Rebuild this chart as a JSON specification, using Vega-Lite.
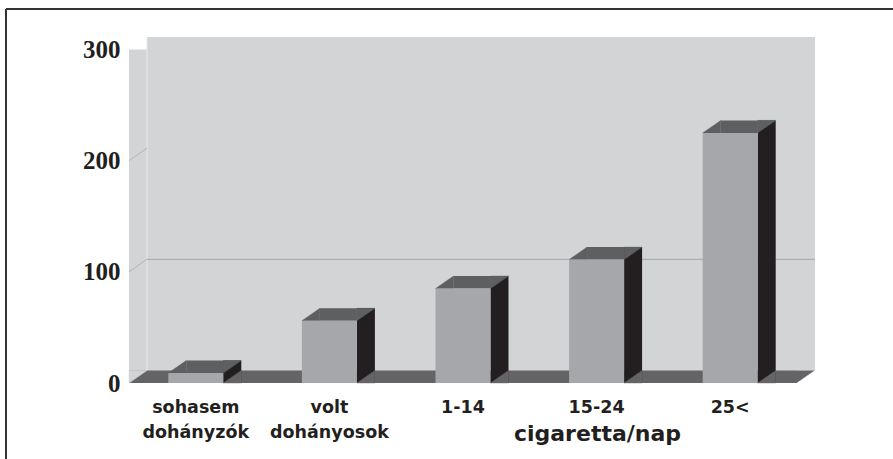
{
  "$schema": "https://vega.github.io/schema/vega-lite/v6.json",
  "width": 887,
  "height": 450,
  "autosize": {"type": "none"},
  "padding": {"left": 6, "top": 9, "right": 0, "bottom": 0},
  "background": "white",
  "config": {
    "view": {"fill": null, "stroke": "#333333", "strokeWidth": 2, "strokeDash": [887, 1337, 450, 0]}
  },
  "datasets": {
    "bars": [
      {"cat": "sohasem dohányzók", "v": 9},
      {"cat": "volt dohányosok", "v": 56},
      {"cat": "1-14", "v": 85},
      {"cat": "15-24", "v": 111},
      {"cat": "25<", "v": 225}
    ],
    "frame": [{"top": 300, "base": 0}],
    "grid": [{"g": 100}, {"g": 200}]
  },
  "layer": [
    {
      "data": {"name": "frame"},
      "mark": {"type": "rect", "fill": "#d3d4d6"},
      "encoding": {
        "x": {
          "datum": "sohasem dohányzók", "type": "nominal", "bandPosition": 0,
          "scale": {"type": "band", "domain": ["sohasem dohányzók", "volt dohányosok", "1-14", "15-24", "25<"], "range": [123, 791], "paddingInner": 0, "paddingOuter": 0},
          "axis": {
            "title": "cigaretta/nap",
            "offset": -76,
            "domain": false, "ticks": false, "grid": false,
            "labelAngle": 0,
            "labelExpr": "split(datum.label, ' ')",
            "labelFont": "DejaVu Sans", "labelFontWeight": "bold", "labelFontSize": 17.5,
            "labelColor": "#231f20", "labelLineHeight": 25,
            "labelBaseline": "alphabetic", "labelPadding": 29,
            "titleFont": "DejaVu Sans", "titleFontWeight": "bold", "titleFontSize": 22,
            "titleColor": "#231f20", "titleX": 591, "titleY": 57,
            "titleAlign": "center", "titleBaseline": "alphabetic"
          }
        },
        "x2": {"datum": "25<", "bandPosition": 1},
        "y": {
          "datum": 300, "type": "quantitative",
          "scale": {"domain": [0, 300], "range": [374, 40.5], "nice": false, "zero": true},
          "axis": {
            "title": null, "values": [0, 100, 200, 300], "offset": -123,
            "domain": false, "ticks": false, "grid": false,
            "labelFont": "Liberation Serif", "labelFontWeight": "bold", "labelFontSize": 25,
            "labelColor": "#231f20", "labelPadding": 9, "labelBaseline": "middle"
          }
        },
        "y2": {"datum": 0}
      }
    },
    {
      "data": {"name": "frame"},
      "mark": {"type": "rect", "fill": "#d3d4d6", "xOffset": 18, "x2Offset": 18, "yOffset": -12.5, "y2Offset": -12.5},
      "encoding": {
        "x": {"datum": "sohasem dohányzók", "type": "nominal", "bandPosition": 0},
        "x2": {"datum": "25<", "bandPosition": 1},
        "y": {"field": "top", "type": "quantitative"},
        "y2": {"field": "base"}
      }
    },
    {
      "data": {"name": "frame"},
      "mark": {"type": "rule", "stroke": "#e6e7e8", "strokeWidth": 1, "xOffset": 18, "yOffset": -12.5, "y2Offset": -12.5},
      "encoding": {
        "x": {"datum": "sohasem dohányzók", "type": "nominal", "bandPosition": 0},
        "y": {"field": "top", "type": "quantitative"},
        "y2": {"field": "base"}
      }
    },
    {
      "data": {"name": "grid"},
      "mark": {"type": "rule", "stroke": "#b4b5b8", "strokeWidth": 1, "x2Offset": 18, "y2Offset": -12.5},
      "encoding": {
        "x": {"datum": "sohasem dohányzók", "type": "nominal", "bandPosition": 0},
        "x2": {"datum": "sohasem dohányzók", "bandPosition": 0},
        "y": {"field": "g", "type": "quantitative"},
        "y2": {"field": "g"}
      }
    },
    {
      "data": {"name": "grid"},
      "transform": [{"filter": "datum.g == 100"}],
      "mark": {"type": "rule", "stroke": "#a6a7aa", "strokeWidth": 1, "xOffset": 18, "x2Offset": 18, "yOffset": -12.5},
      "encoding": {
        "x": {"datum": "sohasem dohányzók", "type": "nominal", "bandPosition": 0},
        "x2": {"datum": "25<", "bandPosition": 1},
        "y": {"field": "g", "type": "quantitative"}
      }
    },
    {
      "data": {"name": "frame"},
      "mark": {"type": "rect", "fill": "#646466", "x2Offset": 18, "yOffset": -12.5},
      "encoding": {
        "x": {"datum": "sohasem dohányzók", "type": "nominal", "bandPosition": 0},
        "x2": {"datum": "25<", "bandPosition": 1},
        "y": {"field": "base", "type": "quantitative"},
        "y2": {"field": "base"}
      }
    },
    {
      "data": {"name": "frame"},
      "mark": {"type": "point", "shape": "M0,0L0,-1.3889L2,-1.3889Z", "size": 324, "filled": true, "opacity": 1, "fill": "#d3d4d6", "stroke": "#d3d4d6", "strokeWidth": 0.5},
      "encoding": {
        "x": {"datum": "sohasem dohányzók", "type": "nominal", "bandPosition": 0},
        "y": {"field": "base", "type": "quantitative"}
      }
    },
    {
      "data": {"name": "frame"},
      "mark": {"type": "point", "shape": "M2,-1.3889L2,0L0,0Z", "size": 324, "filled": true, "opacity": 1, "fill": "white", "stroke": "white", "strokeWidth": 0.5},
      "encoding": {
        "x": {"datum": "25<", "type": "nominal", "bandPosition": 1},
        "y": {"field": "base", "type": "quantitative"}
      }
    },
    {
      "data": {"name": "bars"},
      "mark": {"type": "bar", "width": 18, "xOffset": 36.5, "yOffset": -12.5, "fill": "#231f20"},
      "encoding": {
        "x": {"field": "cat", "type": "nominal"},
        "y": {"field": "v", "type": "quantitative"},
        "y2": {"datum": 0}
      }
    },
    {
      "data": {"name": "bars"},
      "mark": {"type": "bar", "width": 37, "xOffset": 9, "yOffset": -12.5, "fill": "#5e5f61"},
      "encoding": {
        "x": {"field": "cat", "type": "nominal"},
        "y": {"field": "v", "type": "quantitative"},
        "y2": {"field": "v"}
      }
    },
    {
      "data": {"name": "bars"},
      "mark": {"type": "point", "shape": "M0,0L2,-1.3889L2,0Z", "size": 324, "filled": true, "opacity": 1, "fill": "#5e5f61", "stroke": "#5e5f61", "strokeWidth": 0.4, "xOffset": -27.5},
      "encoding": {
        "x": {"field": "cat", "type": "nominal"},
        "y": {"field": "v", "type": "quantitative"}
      }
    },
    {
      "data": {"name": "bars"},
      "mark": {"type": "point", "shape": "M0,0L0,-1.3889L2,-1.3889Z", "size": 324, "filled": true, "opacity": 1, "fill": "#5e5f61", "stroke": "#5e5f61", "strokeWidth": 0.4, "xOffset": 27.5},
      "encoding": {
        "x": {"field": "cat", "type": "nominal"},
        "y": {"field": "v", "type": "quantitative"}
      }
    },
    {
      "data": {"name": "bars"},
      "mark": {"type": "point", "shape": "M2,-1.3889L2,0L0,0Z", "size": 324, "filled": true, "opacity": 1, "fill": "#646466", "stroke": "#646466", "strokeWidth": 0.4, "xOffset": 27.5},
      "encoding": {
        "x": {"field": "cat", "type": "nominal"},
        "y": {"datum": 0, "type": "quantitative"}
      }
    },
    {
      "data": {"name": "bars"},
      "mark": {"type": "bar", "width": 55, "fill": "#a6a7aa"},
      "encoding": {
        "x": {"field": "cat", "type": "nominal"},
        "y": {"field": "v", "type": "quantitative"},
        "y2": {"datum": 0}
      }
    }
  ]
}
